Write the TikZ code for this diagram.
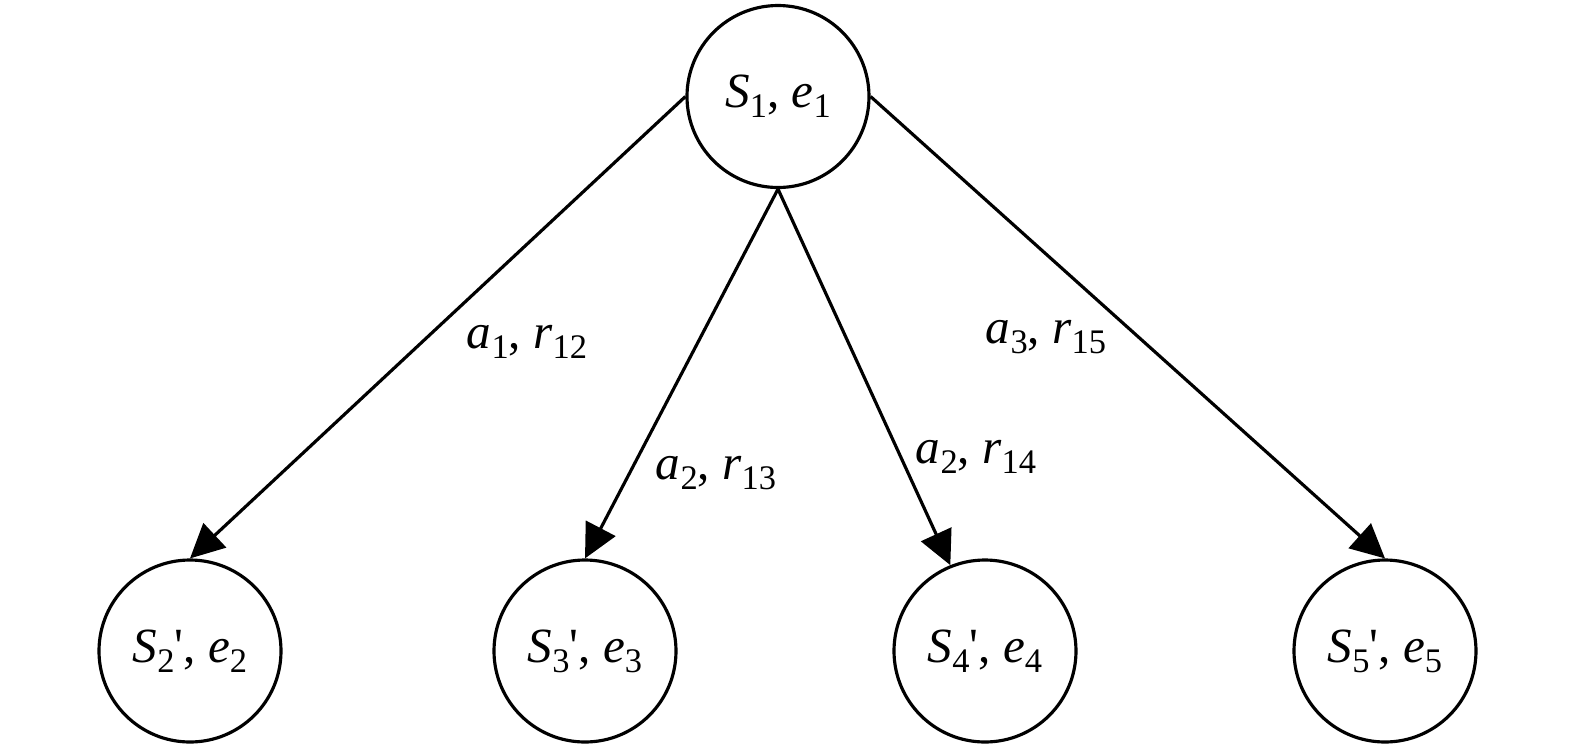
\documentclass[tikz,border=0pt]{standalone}
\usepackage{fontspec}
\setmainfont{Liberation Serif}
\usetikzlibrary{arrows.meta}
\tikzset{state/.style={draw,circle,line width=0.9pt,minimum size=1.82cm,inner sep=0pt,font=\fontsize{14}{16}\selectfont},trans/.style={-{Triangle[length=3.4mm,width=3.3mm]},line width=0.9pt},act/.style={font=\fontsize{14}{16}\selectfont,inner sep=1pt}}
\newcommand{\low}[1]{\raisebox{-2.8pt}{\fontsize{9.8}{10}\selectfont #1}}
\newcommand{\sv}[1]{\textit{S}\low{#1}}
\newcommand{\ev}[1]{\textit{e}\low{#1}}
\newcommand{\ar}[2]{\textit{a}\low{#1}, \textit{r}\low{#2}}

\begin{document}
\begin{tikzpicture}
\useasboundingbox (0,0) rectangle (15.75,-7.44);
\node[state] (s1) at (7.78,-0.965) {\sv{1}, \ev{1}};
\node[state] (s2) at (1.90,-6.51) {\sv{2}\textquotesingle, \ev{2}};
\node[state] (s3) at (5.85,-6.51) {\sv{3}\textquotesingle, \ev{3}};
\node[state] (s4) at (9.85,-6.51) {\sv{4}\textquotesingle, \ev{4}};
\node[state] (s5) at (13.85,-6.51) {\sv{5}\textquotesingle, \ev{5}};
\draw[trans] (s1.west)--(s2.north);
\draw[trans] (s1.south)--(s3.north);
\draw[trans] (s1.south)--(s4.112);
\draw[trans] (s1.east)--(s5.north);
\node[act] (l12) at (5.27,-3.42) {\ar{1}{12}};
\node[act] (l13) at (7.16,-4.73) {\ar{2}{13}};
\node[act] (l14) at (9.76,-4.57) {\ar{2}{14}};
\node[act] (l15) at (10.46,-3.37) {\ar{3}{15}};
\end{tikzpicture}
\end{document}
